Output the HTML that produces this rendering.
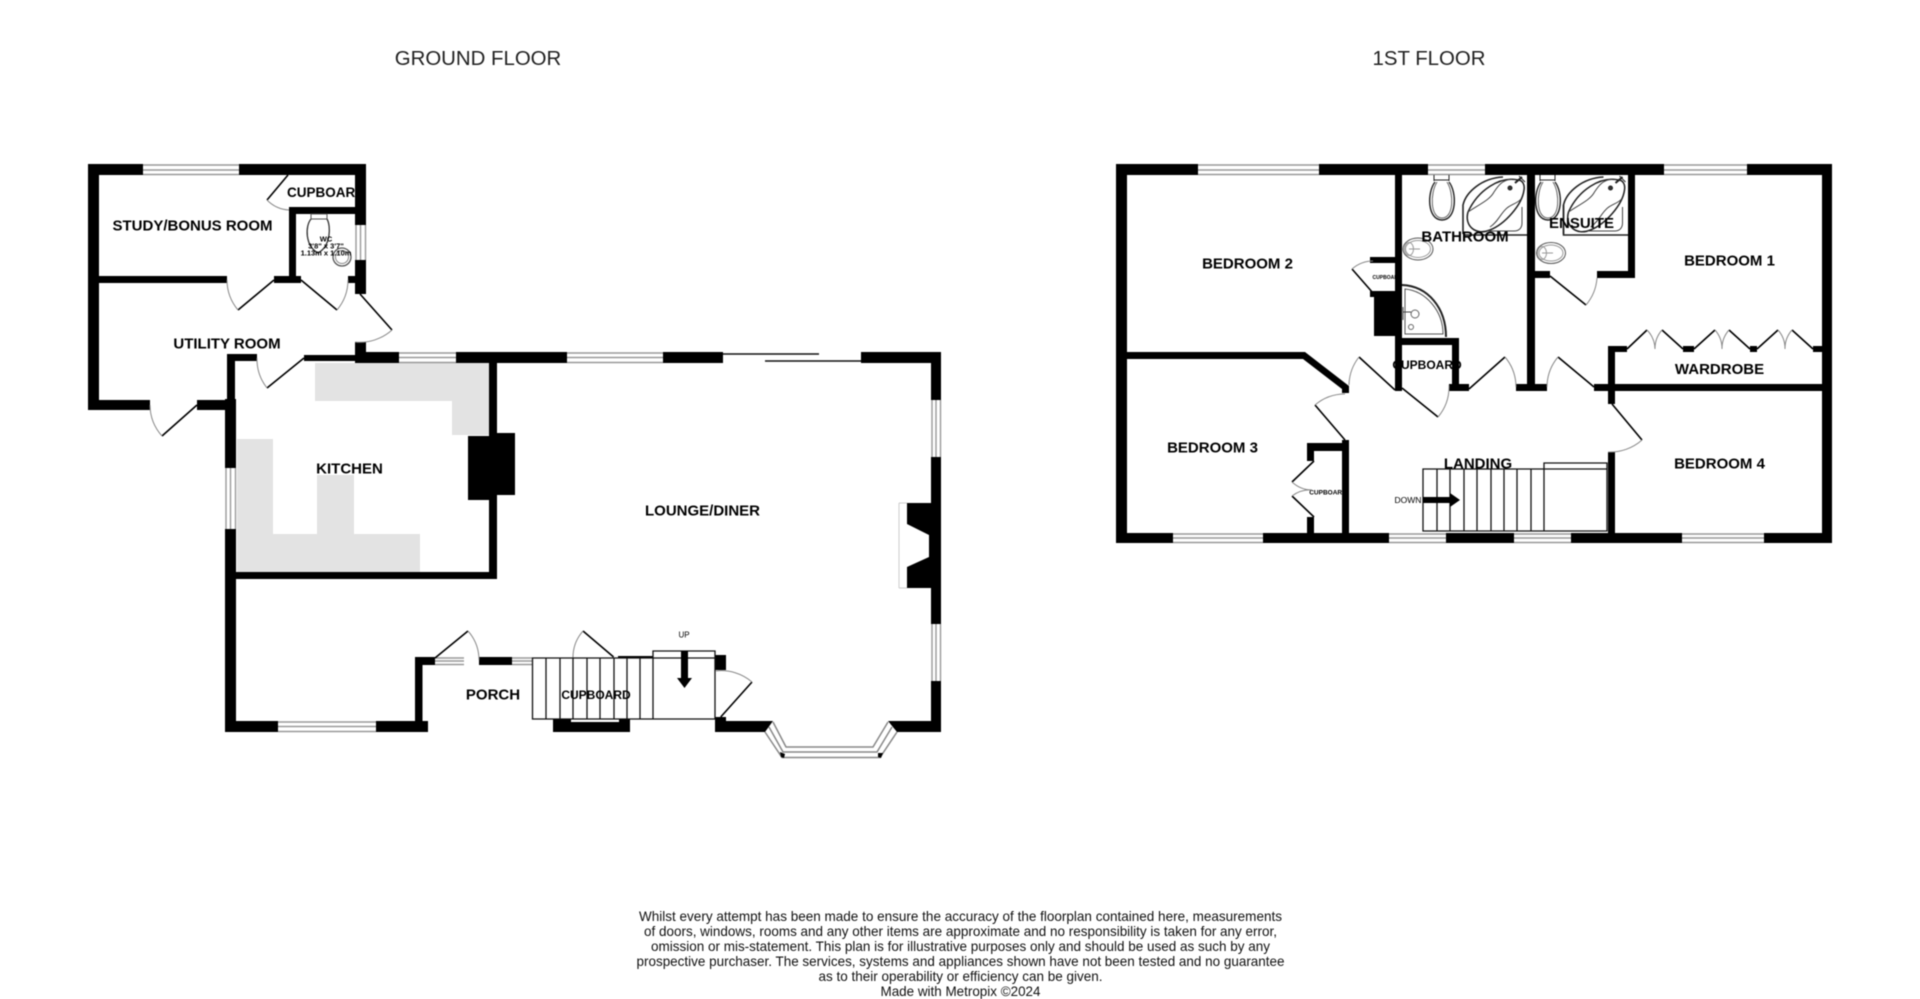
<!DOCTYPE html>
<html><head><meta charset="utf-8"><style>
html,body{margin:0;padding:0;background:#fff;width:1920px;height:999px;overflow:hidden}
svg{display:block;filter:blur(.4px)}
text{font-family:"Liberation Sans",sans-serif;fill:#000}
.r{font-weight:bold;font-size:15px;text-anchor:middle;dominant-baseline:central}
.t{font-size:20.4px;text-anchor:middle;dominant-baseline:central;fill:#222}
.f{font-size:14px;text-anchor:middle;dominant-baseline:central;fill:#111}
</style></head><body>
<svg width="1920" height="999" viewBox="0 0 1920 999" xmlns="http://www.w3.org/2000/svg">
<rect width="1920" height="999" fill="#fff"/>
<text class="t" x="478" y="59">GROUND FLOOR</text>
<text class="t" x="1429" y="59">1ST FLOOR</text>

<!-- kitchen units -->
<path fill="#e3e3e3" d="M315 363H489V435H452V401H315Z M237 439H273V534H317V475H354V534H420V572H237Z"/>

<!-- labels below walls -->
<text class="r" style="font-size:13.5px" x="326" y="192.500">CUPBOARD</text>
<text class="r" style="font-size:12px" x="1427" y="365">CUPBOARD</text>
<text class="r" style="font-size:5px" x="1387" y="278">CUPBOARD</text>
<text class="r" style="font-size:6.5px" x="1328" y="493">CUPBOARD</text>

<!-- window lines -->
<path fill="none" stroke="#999" stroke-width="1.4" d="
M143 165H239M143 170H239M143 174.500H239
M356 225V260M360.500 225V260M365.500 225V260
M399 353H456M399 357.500H456M399 362.500H456
M567 353H663M567 357.500H663M567 362.500H663
M932 400V457M936 400V457M940.500 400V457
M932 624V681M936 624V681M940.500 624V681
M226 468V529M230.500 468V529M235.500 468V529
M278 722H376M278 726.500H376M278 731.500H376
M435 658H464M435 661H464M435 664.500H464
M512 658H532M512 661H532M512 664.500H532
M1198 165H1319M1198 170H1319M1198 174.500H1319
M1428 165H1485M1428 170H1485M1428 174.500H1485
M1664 165H1747M1664 170H1747M1664 174.500H1747
M1173 534H1263M1173 538H1263M1173 542.500H1263
M1389 534H1446M1389 538H1446M1389 542.500H1446
M1514 534H1571M1514 538H1571M1514 542.500H1571
M1682 534H1764M1682 538H1764M1682 542.500H1764"/>
<path fill="none" stroke="#888" stroke-width="1.5" d="
M773 722L786 747H873L888 722
M769 727L783 752H877L892 727
M765 732L782 757.500H880L897 732"/>
<path fill="none" stroke="#ccc" stroke-width="1" d="M899 503V588M899 503H907M899 588H907"/>

<!-- walls -->
<path fill="#000" d="
M88 164H143V175H88Z M239 164H366V175H239Z M88 164H99V410H88Z M355 164H366V225H355Z M355 260H366V294H355Z
M88 400H150V410H88Z M197 400H226V410H197Z
M99 276H227V283H99Z M274 276H301V283H274Z M348 276H355V283H348Z
M289 207H355V214H289Z M289 207H296V276H289Z
M355 342H366V363H355Z M227 354H257V361H227Z M227 354H235V400H227Z M304 355H355V361H304Z
M355 352H399V363H355Z M456 352H567V363H456Z M663 352H723V363H663Z M861 352H941V363H861Z
M931 352H941V400H931Z M931 457H941V624H931Z M931 681H941V732H931Z
M888 721H941V732H897Z M715 721H773L765 732H715Z M715 717H726V721H715Z
M489 363H497V579H489Z M235 572H497V579H235Z
M468 436H489V500H468Z M497 433H515V495H497Z
M225 399H236V468H225Z M225 529H236V732H225Z
M225 721H278V732H225Z M376 721H428V732H376Z
M415 657H422.500V721H415Z M415 657H435V665H415Z M479 657H512V665H479Z
M553 722H630V732H553Z M553 719H571V722H553Z M619 719H630V722H619Z
M618 656H653V658H618Z
M715 655H726V670H715Z
M907 503H931V588H907V567L929 557V535L907 524Z
M1116 164H1198V175H1116Z M1319 164H1428V175H1319Z M1485 164H1664V175H1485Z M1747 164H1832V175H1747Z
M1116 164H1127V543H1116Z M1822 164H1832V543H1822Z
M1116 533H1173V543H1116Z M1263 533H1389V543H1263Z M1446 533H1514V543H1446Z M1571 533H1682V543H1571Z M1764 533H1832V543H1764Z
M1127 352H1305L1349 386V393H1342V389L1303 359H1127Z
M1395 175H1402V391H1395Z
M1402 338H1459V345H1402Z M1452 338H1459V384H1452Z M1449 384H1469V391H1449Z
M1516 384H1547V391H1516Z M1527 175H1535V384H1527Z
M1594 384H1822V391H1594Z M1608 346H1615V404H1608Z M1608 346H1627V352H1608Z M1608 452H1615V533H1608Z
M1683 346H1694V352H1683Z M1750 346H1757V352H1750Z M1813 346H1822V352H1813Z
M1628 175H1635V278H1628Z M1597 271H1635V278H1597Z M1535 271H1550V278H1535Z
M1370 257H1395V263H1370Z M1374 291H1395V336H1374Z M1370 291H1374V297H1370Z
M1307 443H1349V451H1307Z M1342 440H1349V533H1342Z M1307 443H1314V461H1307Z M1307 517H1314V533H1307Z
M780 752L785 754L784 758L781 757Z M878 753L883 753L881 758L878 757Z"/>

<!-- sliding door -->
<path fill="none" stroke="#111" stroke-width="1.5" d="M723 354H819M765 361H861"/>

<!-- door leaves -->
<path fill="none" stroke="#000" stroke-width="1.6" d="
M274 280L238 310M301 280L337 310M288 175L267 200M360 294L392 330M197 405L162 436M304 358L267 388
M435 658L468 631M613.600 657L583 631M720.700 717L752 682
M1345 440L1315 405M1395 390L1359 357M1402 388L1438 417M1469 389L1505 357M1594 387L1558 357M1612 404L1642 440M1550 276L1586 305M1373 293L1352 269
M1314 461L1292 482M1314 517L1292 496
M1627 349L1647 330M1662 330L1683 349M1694 349L1715 330M1729 330L1750 349M1757 349L1778 330M1792 330L1813 349"/>
<!-- door arcs -->
<path fill="none" stroke="#888" stroke-width="1" d="
M238 310A47 47 0 0 1 227 280M337 310A47 47 0 0 0 348 280M267 200A33 33 0 0 0 289 210M392 330A48 48 0 0 1 355 342M162 436A47 47 0 0 1 150 405M267 388A47 47 0 0 1 257 358
M468 631A44 44 0 0 1 479 660M583 631A40 40 0 0 0 573 658M752 682A47 47 0 0 0 716 671
M1315 405A46 46 0 0 1 1345 394M1359 357A47 47 0 0 0 1349 385M1438 417A47 47 0 0 0 1449 385M1505 357A47 47 0 0 1 1516 387M1558 357A47 47 0 0 0 1547 387M1642 440A48 48 0 0 1 1608 452M1586 305A47 47 0 0 0 1597 278M1352 269A32 32 0 0 1 1373 261
M1292 482A30 30 0 0 0 1312 490M1292 496A30 30 0 0 1 1312 490
M1647 330A28 28 0 0 1 1655 349M1662 330A28 28 0 0 0 1655 349M1715 330A28 28 0 0 1 1722 349M1729 330A28 28 0 0 0 1722 349M1778 330A28 28 0 0 1 1785 349M1792 330A28 28 0 0 0 1785 349"/>

<!-- ground stairs -->
<path fill="none" stroke="#111" stroke-width="1.3" d="
M532.500 658H715V719H532.500Z M546 658V719M560 658V719M573 658V719M587 658V719M600 658V719M614 658V719M627 658V719M640 658V719M653 658V719 M653 658V651H715V658"/>
<path fill="#000" d="M681 651H688V678H692L684.500 688L677 678H681Z"/>
<text x="684" y="635" style="font-size:8px;text-anchor:middle;dominant-baseline:central">UP</text>

<!-- first floor stairs -->
<path fill="none" stroke="#111" stroke-width="1.3" d="
M1423 469H1607V531H1423Z M1437 469V531M1450 469V531M1464 469V531M1477 469V531M1491 469V531M1504 469V531M1517 469V531M1531 469V531M1544 469V531 M1544 469V463H1607V469"/>
<path fill="#000" d="M1423 497H1450V493L1460 500L1450 507V503H1423Z"/>
<text x="1408" y="500" style="font-size:8.500px;text-anchor:middle;dominant-baseline:central">DOWN</text>

<!-- fixtures -->
<g fill="none" stroke="#222" stroke-width="1">
 <!-- bathroom WC -->
 <path d="M1434 175V181M1449 175V181M1434 180H1449"/>
 <path stroke-width="1.4" d="M1435 182C1427 192 1427 220 1442 220C1457 220 1457 192 1449 182"/>
 <path stroke="#666" d="M1437 182C1430 193 1430 218 1442 218C1454 218 1454 193 1447 182"/>
 <!-- bathroom bath -->
 <path stroke-width="1.6" d="M1463 234V205C1466 192 1482 178 1503 177"/>
 <path stroke-width="1.5" d="M1518 180C1500 176 1478 190 1468 212C1464 226 1476 236 1490 230C1505 224 1522 205 1524 190C1525 184 1522 180 1518 180Z"/>
 <path stroke="#444" d="M1468 212C1478 205 1490 200 1494 192C1498 186 1502 180 1512 179M1490 227C1498 222 1500 214 1507 208C1512 204 1518 203 1521 199M1522 207V223C1522 228 1519 231 1514 231H1487"/>
 <circle cx="1510" cy="188" r="2" fill="#333"/>
 <path stroke-width="2" d="M1515 183L1522 177"/><path d="M1519 176L1525 182"/>
 <path stroke-width="1.500" d="M1463 235H1527"/>
 <!-- basin -->
 <ellipse cx="1418" cy="249" rx="15" ry="11" stroke="#555"/>
 <ellipse cx="1418" cy="249" rx="12.500" ry="8.500" stroke="#999"/>
 <ellipse cx="1409" cy="249" rx="4.500" ry="6.500" stroke="#999"/>
 <path stroke="#999" d="M1409 249H1420"/>
 <!-- shower -->
 <path stroke-width="2" d="M1402 285C1428 286 1446 308 1446 337"/>
 <path d="M1405 289C1426 291 1443 311 1443 334H1405Z" stroke="#555"/>
 <circle cx="1415" cy="314" r="4" stroke="#666"/>
 <circle cx="1411" cy="327" r="2.500" stroke="#666"/>
 <path d="M1403 307V320M1403 312H1411" stroke="#444"/>
 <!-- ensuite WC -->
 <path d="M1540 175V181M1555 175V181M1540 180H1555"/>
 <path stroke-width="1.4" d="M1541 182C1533 192 1533 220 1548 220C1563 220 1563 192 1555 182"/>
 <path stroke="#666" d="M1543 182C1536 193 1536 218 1548 218C1560 218 1560 193 1553 182"/>
 <!-- ensuite bath -->
 <g transform="translate(100.500,0)">
  <path stroke-width="1.6" d="M1463 234V205C1466 192 1482 178 1503 177"/>
  <path stroke-width="1.5" d="M1518 180C1500 176 1478 190 1468 212C1464 226 1476 236 1490 230C1505 224 1522 205 1524 190C1525 184 1522 180 1518 180Z"/>
  <path stroke="#444" d="M1468 212C1478 205 1490 200 1494 192C1498 186 1502 180 1512 179M1490 227C1498 222 1500 214 1507 208C1512 204 1518 203 1521 199M1522 207V223C1522 228 1519 231 1514 231H1487"/>
  <circle cx="1510" cy="188" r="2" fill="#333"/>
  <path stroke-width="2" d="M1515 183L1522 177"/><path d="M1519 176L1525 182"/>
 </g>
 <path stroke-width="1.500" d="M1563.500 205V235H1628"/>
 <ellipse cx="1551" cy="253" rx="14.500" ry="10.500" stroke="#555"/>
 <ellipse cx="1551" cy="253" rx="12" ry="8" stroke="#999"/>
 <ellipse cx="1542" cy="253" rx="4.500" ry="6.500" stroke="#999"/>
 <path stroke="#999" d="M1542 253H1553"/>
 <!-- ground WC -->
 <path stroke="#555" d="M311 214H327V219H311Z"/>
 <path stroke="#333" stroke-width="1.300" d="M311 219C305 226 305 246 318 253C331 246 331 226 327 219"/>
 <circle cx="342" cy="257" r="9" stroke="#555" stroke-width="1.300"/>
 <circle cx="342" cy="257" r="6.500" stroke="#888"/>
</g>

<!-- labels -->
<text class="r" x="192.500" y="226.200">STUDY/BONUS ROOM</text>
<text class="r" x="227" y="343.800">UTILITY ROOM</text>
<text class="r" x="349.500" y="468.800">KITCHEN</text>
<text class="r" x="702.500" y="510.800">LOUNGE/DINER</text>
<text class="r" x="493" y="695.200">PORCH</text>
<text class="r" style="font-size:12px" x="596" y="695.200">CUPBOARD</text>
<text class="r" style="font-size:7.500px" x="326" y="239">WC</text>
<text class="r" style="font-size:7.500px" x="326" y="246">3'8" x 3'7"</text>
<text class="r" style="font-size:7.500px" x="326" y="253">1.13m x 1.10m</text>
<text class="r" x="1247.500" y="264">BEDROOM 2</text>
<text class="r" x="1212.500" y="448">BEDROOM 3</text>
<text class="r" x="1465" y="237">BATHROOM</text>
<text class="r" x="1581.500" y="223.400">ENSUITE</text>
<text class="r" x="1729.500" y="261">BEDROOM 1</text>
<text class="r" x="1719.500" y="369.500">WARDROBE</text>
<text class="r" x="1719.500" y="464">BEDROOM 4</text>
<text class="r" x="1478" y="464">LANDING</text>

<!-- footer -->
<text class="f" x="960.500" y="916" textLength="643" lengthAdjust="spacingAndGlyphs">Whilst every attempt has been made to ensure the accuracy of the floorplan contained here, measurements</text>
<text class="f" x="960.500" y="931" textLength="633" lengthAdjust="spacingAndGlyphs">of doors, windows, rooms and any other items are approximate and no responsibility is taken for any error,</text>
<text class="f" x="960.500" y="946" textLength="619" lengthAdjust="spacingAndGlyphs">omission or mis-statement. This plan is for illustrative purposes only and should be used as such by any</text>
<text class="f" x="960.500" y="961" textLength="648" lengthAdjust="spacingAndGlyphs">prospective purchaser. The services, systems and appliances shown have not been tested and no guarantee</text>
<text class="f" x="960.500" y="976" textLength="284" lengthAdjust="spacingAndGlyphs">as to their operability or efficiency can be given.</text>
<text class="f" x="960.500" y="991" textLength="160" lengthAdjust="spacingAndGlyphs">Made with Metropix ©2024</text>
</svg>
</body></html>
